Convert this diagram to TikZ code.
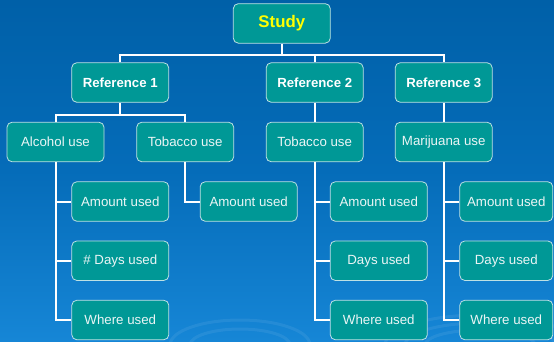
\documentclass[tikz,border=0pt]{standalone}
\usepackage{fontspec}
\setmainfont{Liberation Sans}
\definecolor{bgtop}{RGB}{0,96,168}
\definecolor{bgmid}{RGB}{5,108,185}
\definecolor{bgbot}{RGB}{22,134,214}
\definecolor{boxfill}{RGB}{0,152,150}
\definecolor{boxline}{RGB}{190,225,228}
\definecolor{txt}{RGB}{235,245,245}
\definecolor{studyyellow}{RGB}{255,255,0}
\begin{document}
\begin{tikzpicture}[x=1pt,y=-1pt,
  box/.style={rectangle, rounded corners=5pt, fill=boxfill, draw=boxline, line width=0.8pt,
    minimum width=97pt, minimum height=39.5pt, inner sep=0pt, text=txt,
    font=\fontsize{13.3}{16}\selectfont},
  boldbox/.style={box, text=white, font=\fontsize{13.2}{16}\selectfont\bfseries},
  studybox/.style={box, text=studyyellow, font=\fontsize{16.8}{20}\selectfont\bfseries},
  conn/.style={draw=white, line width=2pt},
  swirl/.style={draw=white, opacity=0.07, line width=3pt}]
\useasboundingbox (0,0) rectangle (554,341);
\shade[top color=bgtop, bottom color=bgbot, middle color=bgmid] (0,0) rectangle (554,341);
% faint swirls
\begin{scope}
\clip (0,0) rectangle (554,341);
\draw[swirl] (480,345) ellipse (95 and 30);
\draw[swirl] (480,345) ellipse (75 and 22);
\draw[swirl] (480,345) ellipse (55 and 15);
\draw[swirl] (240,345) ellipse (70 and 25);
\draw[swirl] (240,345) ellipse (50 and 16);
\end{scope}
% nodes
\node[studybox] (study) at (281.8,23.4) {Study};
\node[boldbox] (ref1) at (120.2,82.5) {Reference 1};
\node[boldbox] (ref2) at (314.7,82.5) {Reference 2};
\node[boldbox] (ref3) at (443.7,82.5) {Reference 3};
\node[box] (alc) at (55.5,142) {Alcohol use};
\node[box] (tob1) at (185.2,142) {Tobacco use};
\node[box] (tob2) at (314.7,142) {Tobacco use};
\node[box] (mar) at (443.7,142) {Marijuana use};
\node[box] (a1) at (120.3,201.5) {Amount used};
\node[box] (d1) at (120.3,260.7) {\# Days used};
\node[box] (w1) at (120.3,320) {Where used};
\node[box] (a2) at (248.7,201.5) {Amount used};
\node[box] (a3) at (378.8,201.5) {Amount used};
\node[box] (d3) at (378.8,260.7) {Days used};
\node[box] (w3) at (378.8,320) {Where used};
\node[box, minimum width=93pt] (a4) at (506.3,201.5) {Amount used};
\node[box, minimum width=93pt] (d4) at (506.3,260.7) {Days used};
\node[box, minimum width=93pt] (w4) at (506.3,320) {Where used};
% connectors
\coordinate (j0) at (281.8,55);
\coordinate (j1) at (120.2,115);
\begin{scope}[on background layer/.try]
\end{scope}
\draw[conn] (study.south) -- (j0) -| (ref1.north);
\draw[conn] (j0) -| (ref2.north);
\draw[conn] (j0) -| (ref3.north);
\draw[conn] (ref1.south) -- (j1) -| (alc.north);
\draw[conn] (j1) -| (tob1.north);
\draw[conn] (ref2.south) -- (tob2.north);
\draw[conn] (ref3.south) -- (mar.north);
\draw[conn] (alc.south) |- (a1.west);
\draw[conn] (alc.south) |- (d1.west);
\draw[conn] (alc.south) |- (w1.west);
\draw[conn] (tob1.south) |- (a2.west);
\draw[conn] (tob2.south) |- (a3.west);
\draw[conn] (tob2.south) |- (d3.west);
\draw[conn] (tob2.south) |- (w3.west);
\draw[conn] (mar.south) |- (a4.west);
\draw[conn] (mar.south) |- (d4.west);
\draw[conn] (mar.south) |- (w4.west);
\end{tikzpicture}
\end{document}
